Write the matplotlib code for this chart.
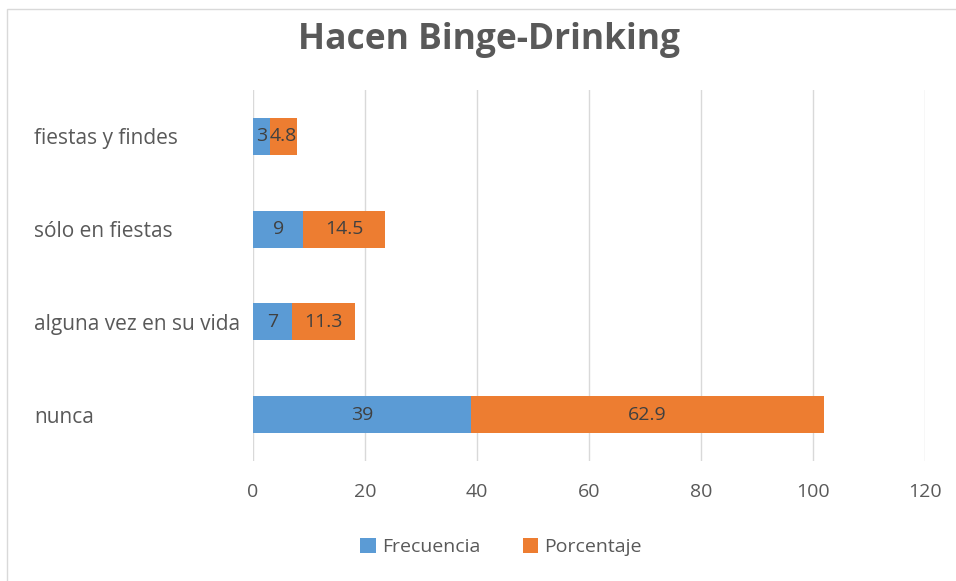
import matplotlib.pyplot as plt
import matplotlib.patches as mpatches

categorias = ['nunca', 'alguna vez en su vida', 'sólo en fiestas', 'fiestas y findes']
frecuencia = [39, 7, 9, 3]
porcentaje = [62.9, 11.3, 14.5, 4.8]
ticks_x = [0, 20, 40, 60, 80, 100, 120]

azul = '#5B9BD5'
naranja = '#ED7D31'
gris = '#595959'

plt.rcParams['font.family'] = ['Open Sans', 'DejaVu Sans']

fig = plt.figure(figsize=(9.56, 5.81), dpi=100)
ax = fig.add_axes([253 / 956, 1 - 461 / 581, 672 / 956, 371 / 581])

y = range(len(categorias))
b1 = ax.barh(y, frecuencia, height=0.4, color=azul, label='Frecuencia', zorder=3)
b2 = ax.barh(y, porcentaje, left=frecuencia, height=0.4, color=naranja,
             label='Porcentaje', zorder=3)
ax.bar_label(b1, labels=[str(v) for v in frecuencia], label_type='center',
             fontsize=14, color='#404040')
ax.bar_label(b2, labels=[str(v) for v in porcentaje], label_type='center',
             fontsize=14, color='#404040')

ax.set_xlim(0, 120)
ax.set_ylim(-0.5, len(categorias) - 0.5)
ax.set_xticks(ticks_x)
ax.set_yticks(list(y))
ax.set_yticklabels(categorias, ha='left')
ax.tick_params(axis='y', length=0, pad=(253 - 34) * 0.72, labelsize=15, labelcolor=gris)
ax.tick_params(axis='x', length=0, pad=16, labelsize=14, labelcolor=gris)
ax.grid(axis='x', color='#d9d9d9', linewidth=1, zorder=0)
for s in ax.spines.values():
    s.set_visible(False)

fig.text(489 / 956, 1 - 40 / 581, 'Hacen Binge-Drinking', ha='center', va='center',
         fontsize=25.5, fontweight='bold', color=gris)

fig.legend(handles=[b1, b2], loc='center', bbox_to_anchor=(501 / 956, 1 - 547 / 581),
           ncol=2, frameon=False, fontsize=14, labelcolor=gris,
           handlelength=0.8, handleheight=0.8, columnspacing=2.2, handletextpad=0.3)

fig.patches.append(mpatches.Rectangle((7 / 956, -0.1), 1.2, 1 - 9 / 581 + 0.1,
                                      transform=fig.transFigure, fill=False,
                                      edgecolor='#d9d9d9', linewidth=1))

fig.savefig('out.png', dpi=100)
